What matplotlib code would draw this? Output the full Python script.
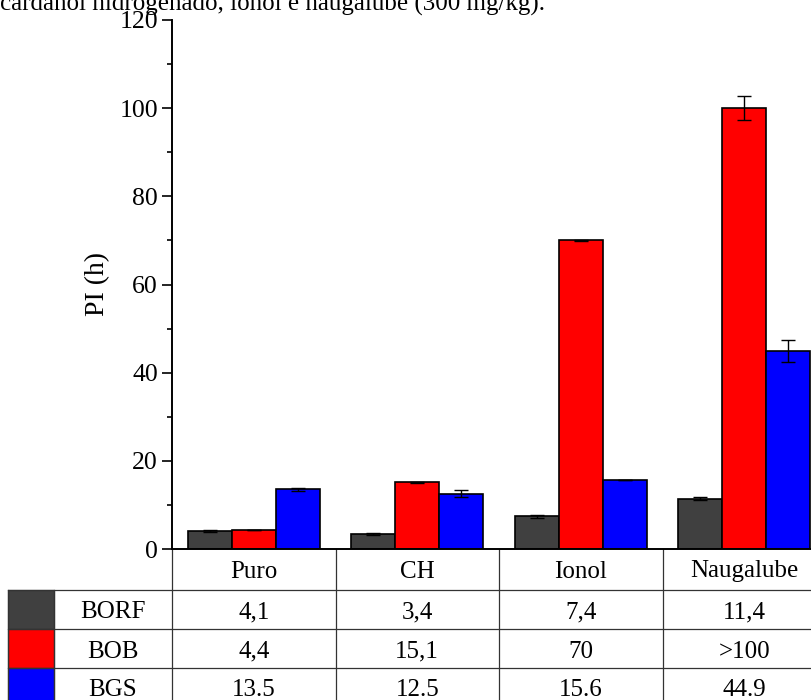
import numpy as np
import matplotlib.pyplot as plt
from matplotlib.transforms import blended_transform_factory
from matplotlib.patches import Rectangle

# data
categories = ['Puro', 'CH', 'Ionol', 'Naugalube']
series = ['BORF', 'BOB', 'BGS']
borf = [4.1, 3.4, 7.4, 11.4]
bob = [4.4, 15.1, 70, 100]
bgs = [13.5, 12.5, 15.6, 44.9]
borf_err = [0.3, 0.2, 0.4, 0.3]
bob_err = [0.0, 0.2, 0.2, 2.7]
bgs_err = [0.4, 0.8, 0.0, 2.5]
table_rows = [['4,1', '3,4', '7,4', '11,4'],
              ['4,4', '15,1', '70', '>100'],
              ['13.5', '12.5', '15.6', '44.9']]
colors = ['#404040', '#ff0000', '#0000ff']
caption = 'cardanol hidrogenado, ionol e naugalube (300 mg/kg).'

plt.rcParams['font.family'] = ['Liberation Serif', 'DejaVu Serif']

W, H = 811, 700
fig = plt.figure(figsize=(W / 100, H / 100), dpi=100)

# the source is cropped on the right, so the axes run past the edge
ax = fig.add_axes([172 / W, 1 - 549 / H, (826 - 172) / W, (549 - 20) / H])

x = np.arange(len(categories))
width = 0.27
values = [borf, bob, bgs]
errors = [borf_err, bob_err, bgs_err]
for i in range(3):
    ax.bar(x + (i - 1) * width, values[i], width, color=colors[i],
           edgecolor='black', linewidth=1.2, zorder=2)
    ax.errorbar(x + (i - 1) * width, values[i], yerr=errors[i], fmt='none',
                ecolor='black', elinewidth=1, capsize=5, capthick=1, zorder=3)

ax.set_xlim(-0.5, 3.5)
ax.set_ylim(0, 120)
ax.set_yticks(np.arange(0, 121, 20))
ax.set_yticks(np.arange(10, 120, 20), minor=True)
ax.set_xticks([])
ax.tick_params(axis='y', which='major', direction='out', length=7, width=1.2,
               labelsize=18.5, pad=3)
ax.tick_params(axis='y', which='minor', direction='out', length=3.6, width=1.2)
for s in ['top', 'right']:
    ax.spines[s].set_visible(False)
for s in ['left', 'bottom']:
    ax.spines[s].set_linewidth(1.4)
ax.set_ylabel('PI (h)', fontsize=20, labelpad=7)

# table under the bars, x in data units, y in pixels
tax = fig.add_axes([0, 0, 1, 1], zorder=-1)
tax.set_xlim(0, W)
tax.set_ylim(H, 0)
tax.axis('off')
tr = blended_transform_factory(ax.transData, tax.transData)

row_y = [549, 590, 629, 668, 707]
px = 654 / 4.0
lab_left = -0.5 - 118 / px
sq_left = lab_left - 46 / px
lc = '#333333'
for yy in row_y[1:]:
    tax.plot([sq_left, 3.6], [yy, yy], color=lc, lw=0.9, transform=tr, clip_on=False)
for xx in np.arange(-0.5, 3.6, 1.0):
    tax.plot([xx, xx], [row_y[0], row_y[-1]], color=lc, lw=0.9, transform=tr, clip_on=False)
for xx in [sq_left, lab_left]:
    tax.plot([xx, xx], [row_y[1], row_y[-1]], color=lc, lw=0.9, transform=tr, clip_on=False)

for j, cat in enumerate(categories):
    tax.text(j, (row_y[0] + row_y[1]) / 2 + 2, cat, ha='center', va='center',
             fontsize=18, transform=tr)
for i, name in enumerate(series):
    yc = (row_y[i + 1] + row_y[i + 2]) / 2 + 3
    tax.add_patch(Rectangle((sq_left, row_y[i + 1]), lab_left - sq_left,
                            row_y[i + 2] - row_y[i + 1], facecolor=colors[i],
                            edgecolor=lc, lw=0.9, transform=tr, clip_on=False))
    tax.text((lab_left - 0.5) / 2, yc, name, ha='center', va='center',
             fontsize=18, transform=tr)
    for j in range(len(categories)):
        tax.text(j, yc, table_rows[i][j], ha='center', va='center',
                 fontsize=18, transform=tr)

# caption line cut off at the top of the source
fig.text(0, 1 - 10.5 / H, caption, ha='left', va='baseline', fontsize=18)

fig.savefig('out.png', dpi=100)
